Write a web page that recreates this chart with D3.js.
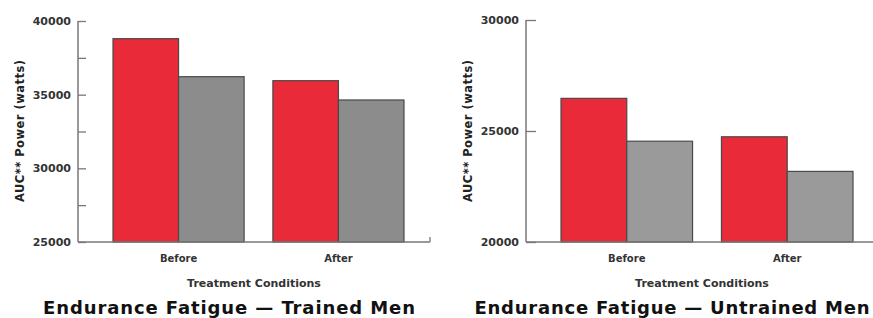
<!DOCTYPE html>
<html><head><meta charset="utf-8">
<script src="https://cdn.jsdelivr.net/npm/d3@7"></script>
<style>
html,body{margin:0;padding:0;background:#fff;}
svg text{font-family:"DejaVu Sans",sans-serif;font-weight:bold;}
</style></head>
<body>
<svg id="c" width="873" height="318"></svg>
<script>
const categories = ["Before", "After"];
const series = ["Series A", "Series B"];
const trainedValues = [[38800, 36220], [35950, 34640]];
const untrainedValues = [[26470, 24540], [24740, 23180]];
const trainedTicks = [25000, 30000, 35000, 40000];
const trainedMinorTicks = [27500, 32500, 37500];
const untrainedTicks = [20000, 25000, 30000];
const titles = ["Endurance Fatigue \u2014 Trained Men", "Endurance Fatigue \u2014 Untrained Men"];
const yLabel = "AUC** Power (watts)";
const xLabel = "Treatment Conditions";
const colors = ["#e92a38", "#8f8f8f"];

const svg = d3.select("#c");

function panel(opts) {
  const g = svg.append("g");
  const y = d3.scaleLinear().domain(opts.domain).range([opts.bottom, opts.top]);
  const x0 = d3.scaleBand().domain(categories).range([opts.barStart, opts.barEnd]).paddingInner(opts.padInner).paddingOuter(0);
  const x1 = d3.scaleBand().domain(series).range([0, x0.bandwidth()]);

  categories.forEach((c, i) => {
    series.forEach((s, j) => {
      g.append("rect")
        .attr("x", x0(c) + x1(s))
        .attr("y", y(opts.values[i][j]))
        .attr("width", x1.bandwidth())
        .attr("height", opts.bottom - y(opts.values[i][j]))
        .attr("fill", j === 0 ? colors[0] : opts.gray)
        .attr("stroke", "#4a4a4a")
        .attr("stroke-width", 1.2);
    });
  });

  const yAxis = d3.axisRight(y).tickValues(opts.ticks).tickSize(opts.tickLen).tickFormat("");
  const ya = g.append("g").attr("transform", `translate(${opts.axisX},0)`).call(yAxis);
  ya.select(".domain").remove();
  ya.selectAll("line").attr("stroke", "#777").attr("stroke-width", 1.3);
  if (opts.minor) {
    const ym = d3.axisRight(y).tickValues(opts.minor).tickSize(opts.tickLen).tickFormat("");
    const ymg = g.append("g").attr("transform", `translate(${opts.axisX},0)`).call(ym);
    ymg.select(".domain").remove();
    ymg.selectAll("line").attr("stroke", "#777").attr("stroke-width", 1.3);
  }
  g.append("line").attr("x1", opts.axisX).attr("x2", opts.axisX)
    .attr("y1", y(opts.domain[1])).attr("y2", opts.bottom)
    .attr("stroke", "#777").attr("stroke-width", 1.5);
  opts.ticks.forEach(t => {
    g.append("text").attr("x", opts.axisX - 7).attr("y", y(t)).attr("dy", "0.35em")
      .attr("text-anchor", "end").attr("font-size", 11).attr("fill", "#333").text(t);
  });
  g.append("line").attr("x1", opts.axisX).attr("x2", opts.xEnd)
    .attr("y1", opts.bottom).attr("y2", opts.bottom)
    .attr("stroke", "#777").attr("stroke-width", 1.5);
  if (opts.endTick) {
    g.append("line").attr("x1", opts.xEnd).attr("x2", opts.xEnd)
      .attr("y1", opts.bottom).attr("y2", opts.bottom - 5)
      .attr("stroke", "#777").attr("stroke-width", 1.3);
  }
  categories.forEach(c => {
    g.append("text").attr("x", x0(c) + x0.bandwidth() / 2).attr("y", opts.bottom + 20)
      .attr("text-anchor", "middle").attr("font-size", 10).attr("fill", "#333").text(c);
  });
  g.append("text").attr("x", opts.xLabelX).attr("y", opts.bottom + 45)
    .attr("text-anchor", "middle").attr("font-size", 11).attr("fill", "#333").text(xLabel);
  g.append("text").attr("transform", `translate(${opts.yLabelX},131) rotate(-90)`)
    .attr("text-anchor", "middle").attr("font-size", 11.5).attr("fill", "#222")
    .attr("textLength", 142).text(yLabel);
  g.append("text").attr("x", opts.titleX).attr("y", opts.bottom + 72)
    .attr("text-anchor", "middle").attr("font-size", 18).attr("fill", "#111")
    .attr("textLength", opts.titleLen).text(opts.title);
}

panel({
  domain: [25000, 40000], top: 21, bottom: 242,
  barStart: 113, barEnd: 404, padInner: 0.18,
  values: trainedValues, ticks: trainedTicks, minor: trainedMinorTicks,
  axisX: 78, tickLen: 8, xEnd: 430, endTick: true,
  gray: "#8c8c8c", xLabelX: 254, yLabelX: 24, titleX: 229, titleLen: 372,
  title: titles[0]
});
panel({
  domain: [20000, 30000], top: 20, bottom: 242,
  barStart: 561, barEnd: 853, padInner: 0.18,
  values: untrainedValues, ticks: untrainedTicks, minor: null,
  axisX: 526, tickLen: 10, xEnd: 873, endTick: false,
  gray: "#9a9a9a", xLabelX: 702, yLabelX: 472, titleX: 672, titleLen: 395,
  title: titles[1]
});
</script>
</body></html>
